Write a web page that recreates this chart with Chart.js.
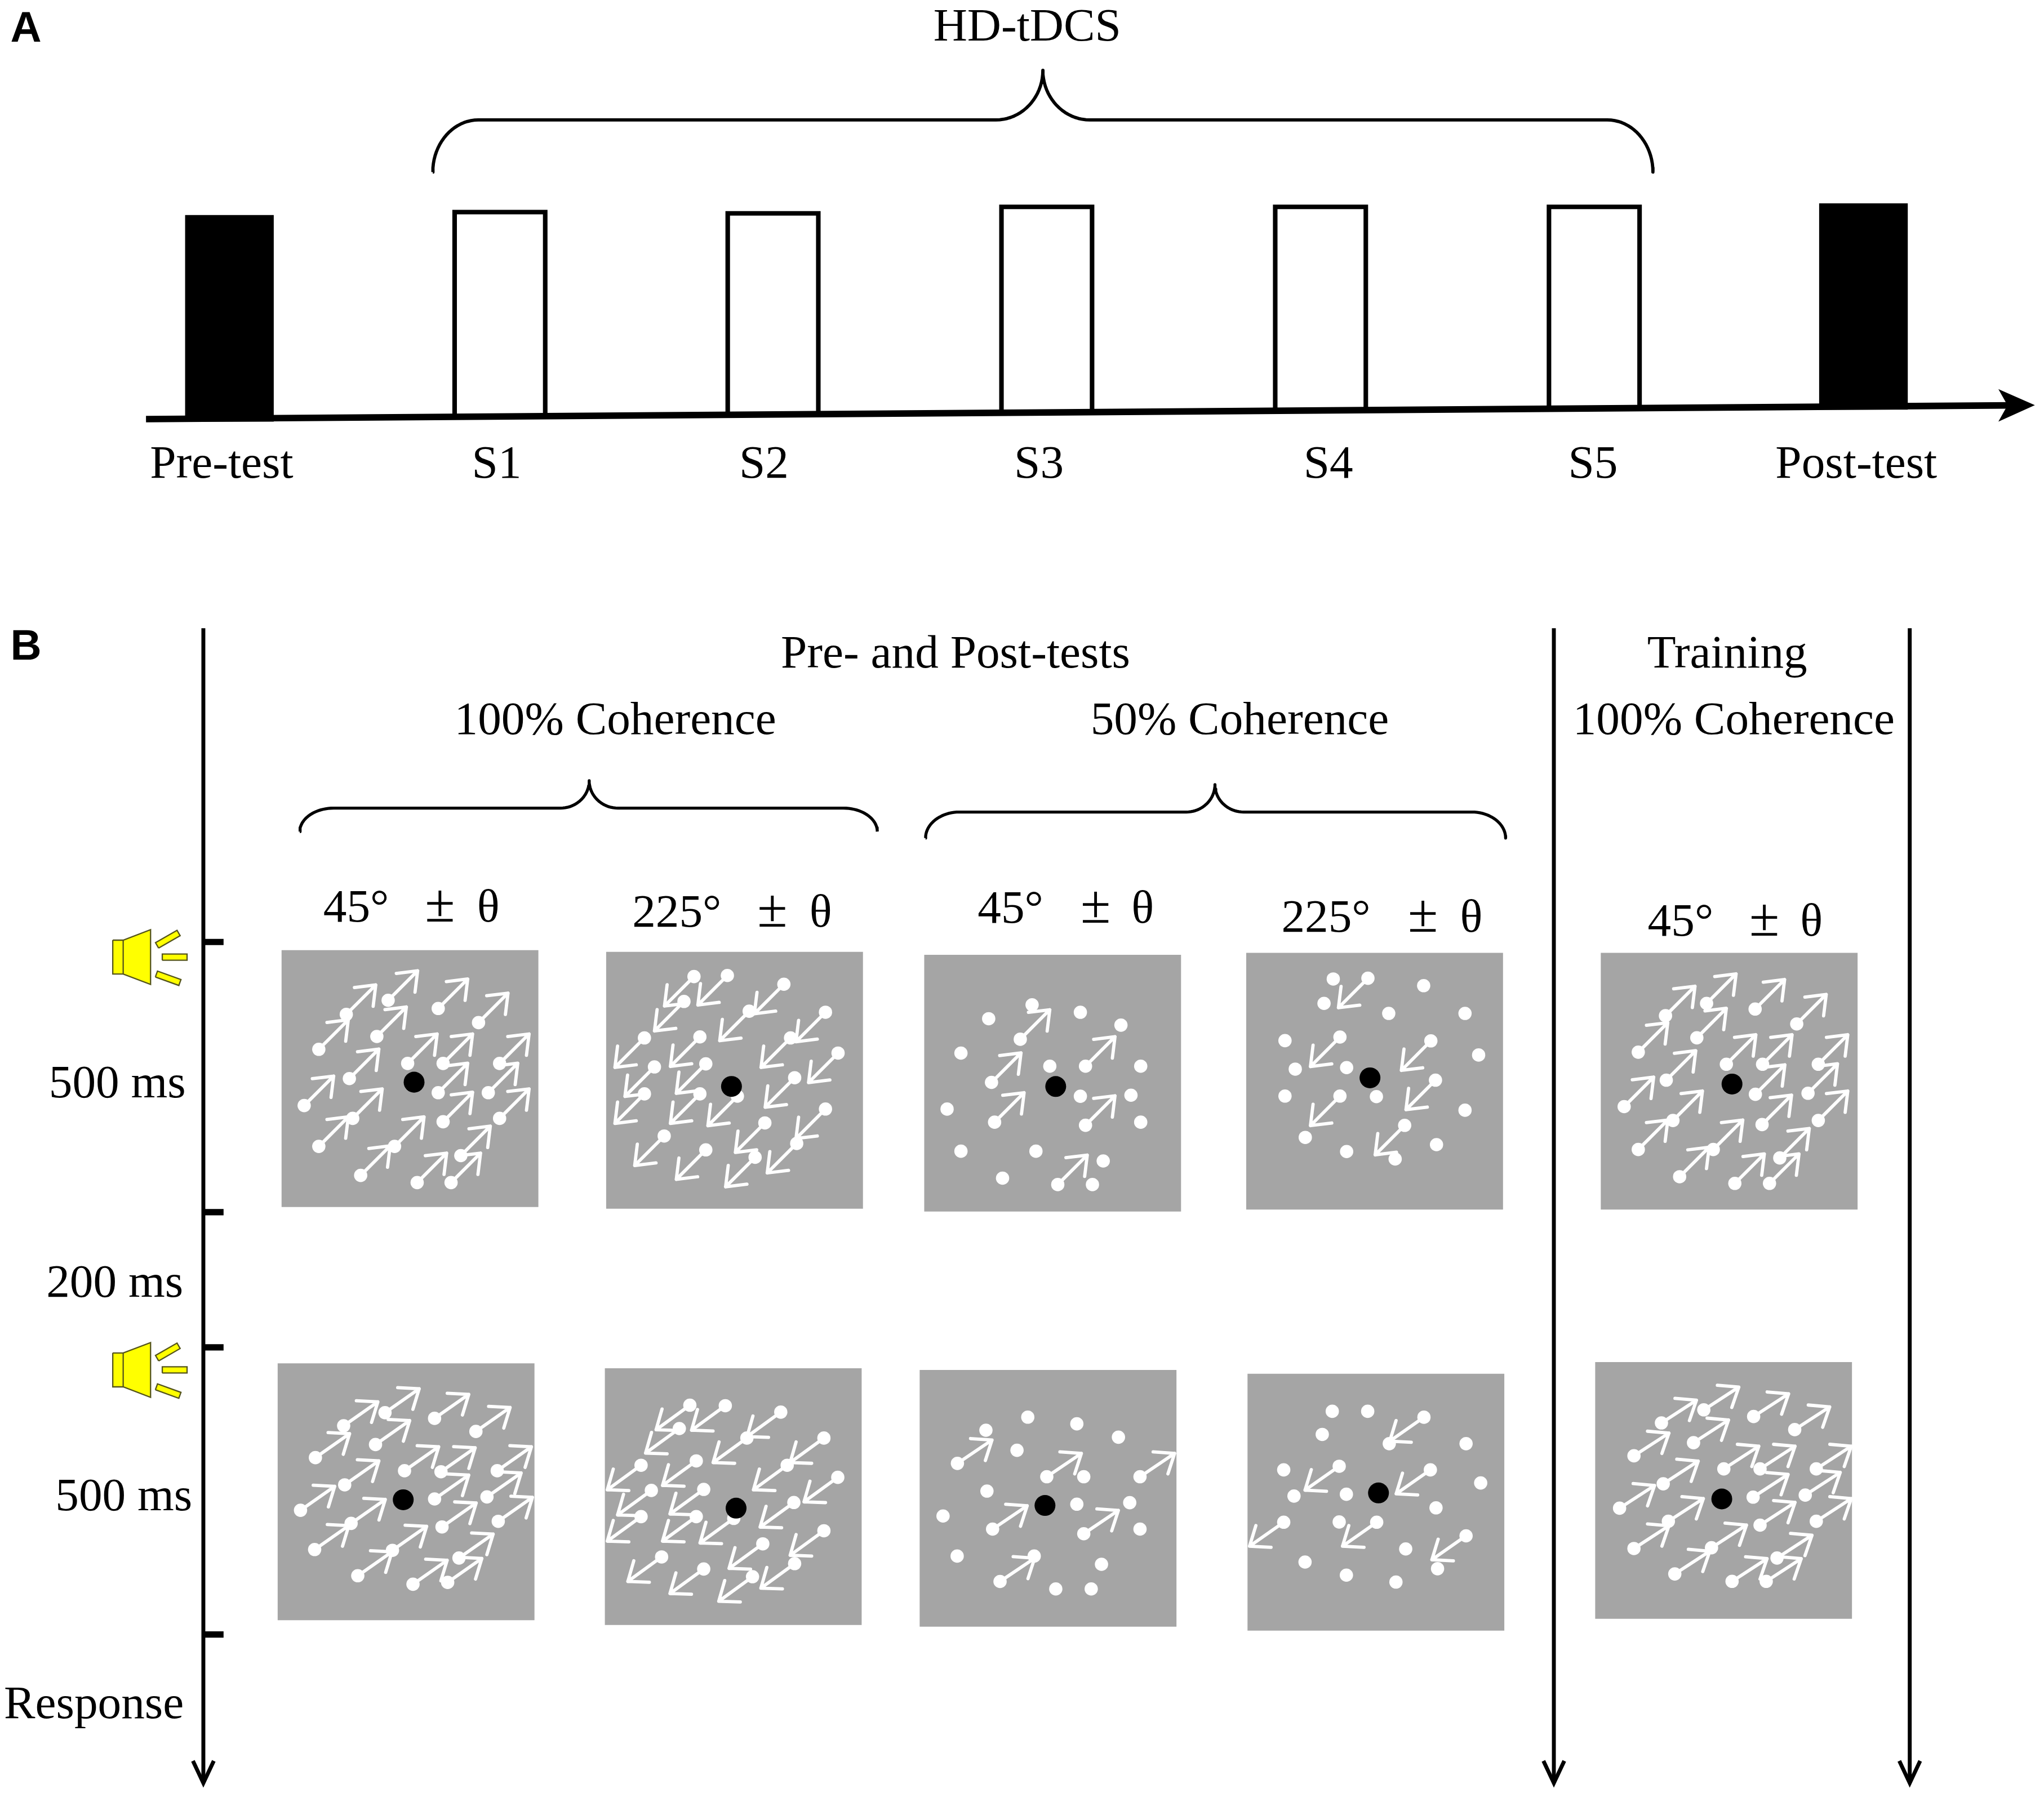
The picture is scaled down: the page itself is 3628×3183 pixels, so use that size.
<!DOCTYPE html>
<html>
<head>
<meta charset="utf-8">
<title>HD-tDCS protocol and motion stimuli</title>
<script src="https://cdn.jsdelivr.net/npm/chart.js@4.4.1/dist/chart.umd.min.js"></script>
<style>
  html, body { margin: 0; padding: 0; background: #fff; }
  #wrap { width: 3628px; height: 3183px; }
</style>
</head>
<body>
<div id="wrap"><canvas id="fig" width="3628" height="3183"></canvas></div>
<script>
// figure units: the reference scaled to 1568 px wide
const W = 1568, H = 1375.6;
const K = 3628 / W;
const SERIF = '"Liberation Serif", "Times New Roman", serif';
const SANS = '"Liberation Sans", Arial, sans-serif';

// ---- panel A: sessions on the timeline ----
const sessionLabels = ["Pre-test", "S1", "S2", "S3", "S4", "S5", "Post-test"];
const sessionX = [176, 383.5, 593, 803, 1013, 1223, 1429.5];
const sessionTop = [165, 162.7, 163.7, 158.7, 158.7, 158.7, 156];
const sessionFilled = [true, false, false, false, false, false, true];
const sessionLabelX = [170, 381, 586, 797, 1019, 1222, 1424];
const timelineStart = [112, 321.5];
const timelineEnd = [1542, 311];
const stimulationTitle = "HD-tDCS";

// ---- panel B: trial timeline ----
const durationLabels = ["500 ms", "200 ms", "500 ms", "Response"];
const durationLabelX = [90, 88, 95, 72];
const durationLabelY = [842, 995, 1158.5, 1318];
const tickY = [722.7, 930, 1033.7, 1254];
const beepY = [734.3, 1051];
const timeAxisX = [156, 1192, 1465];

const groupTitles = ["Pre- and Post-tests", "Training", "100% Coherence", "50% Coherence", "100% Coherence"];
const groupTitleX = [733, 1325, 472, 951, 1330];
const groupTitleY = [512, 512, 563, 563, 563];

// stimuli, in reading order: top row then bottom row
const stimDirection = [45, 225, 45, 225, 45, 35, 216, 34, 215, 33];
const stimCoherence = [100, 100, 50, 50, 100, 100, 100, 50, 50, 100];
const angleText = ["45°", "225°", "45°", "225°", "45°"];
const angleTextX = [248, 485, 750, 983, 1264];
const plusMinusX = [326, 581, 829, 1080, 1342];
const thetaX = [366, 621, 868, 1120, 1381];
const angleTextY = [707, 711, 708, 715, 718];

const stimLeft = [216, 465, 709, 956, 1228, 213, 464, 705.5, 957, 1223.7];
const stimTop = [729, 730.3, 732.5, 731, 731, 1046, 1049.7, 1051, 1054, 1045];

// dot positions inside each stimulus, percent of its side; third value = carries an arrow
const stimDots = [
  [[41.5,19.5],[61,22.7],[76.7,28.2],[25.2,25],[37.1,33.6],[14.5,38.6],[49.1,44.1],[62.9,44.1],[84.9,44.1],[26.4,50],[61,55.5],[80.5,55.5],[8.8,60.5],[27.7,65.5],[62.9,66.8],[84.9,65.5],[14.5,76.4],[44,76.4],[69.8,80],[30.8,87.7],[52.8,90.5],[66,90.5]],
  [[34.2,9.6],[47.2,9.2],[69.2,12.6],[30.3,19.3],[55.7,23.1],[85.4,23.5],[14.9,33.5],[36.5,33.1],[71.8,33.5],[90.3,39.4],[18.8,44.8],[38.8,43.6],[73.4,49],[14.9,55.3],[36.5,55.3],[51.1,56.2],[85.4,61.2],[61.8,66.6],[22.6,71.7],[74.2,74.6],[38.8,77.1],[58,80]],
  [[25.1,24.9,0],[42,19.5,0],[60.8,22.4,0],[76.6,27.4,0],[37.4,32.9,1],[14.3,38.3,0],[62.8,43.4,1],[48.9,43.4,0],[84.3,43.4,0],[26.2,49.7,1],[60.8,55.1,0],[80.5,54.7,0],[8.9,60.1,0],[27.4,65.2,1],[62.8,66.4,1],[84.3,65.2,0],[14.3,76.5,0],[43.5,76.5,0],[69.7,80.3,0],[30.5,87,0],[52,89.5,1],[65.5,89.5,0]],
  [[33.9,10.2,0],[47.4,9.9,1],[30.3,19.7,0],[69.1,12.8,0],[55.5,23.6,0],[85.2,23.6,0],[15.1,34.2,0],[36.5,32.8,1],[71.9,34.3,1],[90.5,39.8,0],[19.1,45.3,0],[39.1,44.7,0],[15.1,55.8,0],[36.5,55.8,1],[50.7,56,0],[73.7,49.6,1],[85.2,61.3,0],[61.7,67.2,1],[23,71.9,0],[39.1,77.4,0],[74.1,74.7,0],[58,80.3,0]],
  [[41.2,19.7],[60.1,21.9],[76.3,27.7],[25.2,24.5],[37.4,33.1],[14.6,38.7],[48.9,43.4],[63,43.4],[84.7,43.4],[25.5,49.6],[60.2,55.1],[80.7,54.7],[9.1,59.9],[28.1,65.3],[62.8,66.9],[84.7,65.3],[14.6,76.6],[43.8,76.6],[69.7,79.9],[30.7,87.2],[52.2,89.8],[65.7,89.8]],
  [[41.8,19.2],[61.1,21.4],[77.2,26.5],[25.7,24.3],[38.1,31.6],[14.7,36.7],[49.4,41.8],[63.6,42.2],[85.5,41.8],[26.1,47.3],[61.1,52.8],[81.5,52],[8.9,57.2],[28.6,62.3],[64,63.7],[85.9,61.5],[14.4,72.5],[44.7,72.8],[70.6,75.8],[31.2,82.7],[52.7,86],[66.2,85.3]],
  [[33.1,14.4],[46.9,14.6],[29,23.5],[68.5,17.1],[55.3,27.2],[85.3,27.2],[14.1,37.8],[35.6,36.1],[71,37.8],[90.7,42.5],[18.1,47.6],[38.5,47.2],[14.1,57.8],[35.6,57.8],[50.2,58.5],[73.6,52.3],[85.3,63.3],[61.5,68.4],[22.1,73.5],[38.5,78.2],[73.9,76.1],[57.5,81.2]],
  [[42.1,18.4,0],[25.8,23.5,0],[61.2,21,0],[77.4,26.2,0],[37.9,31.3,0],[14.7,36.4,1],[49.5,41.6,1],[63.9,41.6,0],[85.8,41.6,1],[26.2,47.2,0],[61.2,52.3,0],[81.8,51.7,0],[9.1,56.9,0],[28.4,62,1],[63.9,63.8,1],[85.8,62,0],[14.6,72.5,0],[44.6,72.5,0],[70.8,75.7,0],[31.3,82.4,1],[53,85.3,0],[66.8,85.3,0]],
  [[33,14.6,0],[46.8,14.6,0],[29.1,23.6,0],[68.7,16.9,1],[55.2,27.2,0],[85.1,27.2,0],[14.1,37.4,0],[35.7,36,1],[71.2,37.4,1],[90.8,42.5,0],[18.1,47.6,0],[38.5,46.9,0],[14.1,57.8,1],[35.7,57.7,0],[50.3,57.8,1],[73.4,52.2,0],[85.1,63.1,1],[61.6,68.2,0],[22.4,73.3,0],[38.5,78.4,0],[74,75.9,0],[57.8,81.1,0]],
  [[42.3,18.6],[61.7,21.2],[77.7,26.3],[25.8,23.7],[38.3,31.4],[15.1,36.5],[50.1,41.6],[64.2,41.6],[86.1,41.6],[26.5,47.4],[61.5,52.6],[81.8,51.8],[9.5,56.9],[28.5,62],[64.2,63.5],[86.1,62],[15.1,72.6],[45.3,72.3],[70.8,76.3],[31,82.5],[53.3,85.4],[66.6,85.4]]
];
const stimFixation = [[51.6,51.4],[48.8,52.4],[51.2,51.3],[48.2,48.7],[51.1,51.1],[48.9,53.1],[51.1,54.5],[48.8,52.8],[51,46.4],[49.3,53.3]];

// ---- drawing constants ----
const STIM = 197;
const ARROW_LEN = 32, HEAD_LEN = 16.5, HEAD_ANGLE = 38 * Math.PI / 180;
const GREY = "#a5a5a5";
const YELLOW = "#ffff00", OLIVE = "#55551c";

const layers = [];

function pt(p) { return { x: p[0], y: p[1] }; }

function shape(points, fillColor, strokeColor, strokeWidth, cap) {
  layers.push({
    data: points.map(pt),
    showLine: true,
    fill: fillColor ? "shape" : false,
    backgroundColor: fillColor || "rgba(0,0,0,0)",
    borderColor: strokeColor || "rgba(0,0,0,0)",
    borderWidth: strokeWidth ? strokeWidth * K : 0,
    borderCapStyle: cap || "butt",
    borderJoinStyle: "miter",
    pointRadius: 0,
    spanGaps: false
  });
}

// many open polylines in one dataset, broken by empty points
function polylines(list, color, width, cap, join) {
  const data = [];
  list.forEach(seg => {
    seg.forEach(p => data.push(pt(p)));
    data.push({ x: seg[0][0], y: null });
  });
  layers.push({
    data, showLine: true, fill: false,
    borderColor: color, borderWidth: width * K,
    borderCapStyle: cap || "butt", borderJoinStyle: join || "miter",
    pointRadius: 0, spanGaps: false
  });
}

function discs(points, color, radius) {
  layers.push({
    data: points.map(pt), showLine: false,
    pointRadius: radius * K, pointBackgroundColor: color,
    pointBorderWidth: 0, pointBorderColor: color
  });
}

function bracePoints(x0, x1, xt, yEnd, yMid, yTip, r, rt) {
  const out = [], k = 0.55;
  const cubic = (a, b, c, d) => {
    for (let i = 0; i <= 20; i++) {
      const t = i / 20, u = 1 - t;
      out.push([
        u*u*u*a[0] + 3*u*u*t*b[0] + 3*u*t*t*c[0] + t*t*t*d[0],
        u*u*u*a[1] + 3*u*u*t*b[1] + 3*u*t*t*c[1] + t*t*t*d[1]
      ]);
    }
  };
  cubic([x0, yEnd], [x0, yEnd - k*(yEnd - yMid)], [x0 + r - k*r, yMid], [x0 + r, yMid]);
  cubic([xt - rt, yMid], [xt - rt + k*rt, yMid], [xt, yTip + k*(yMid - yTip)], [xt, yTip]);
  cubic([xt, yTip], [xt, yTip + k*(yMid - yTip)], [xt + rt - k*rt, yMid], [xt + rt, yMid]);
  cubic([x1 - r, yMid], [x1 - r + k*r, yMid], [x1, yEnd - k*(yEnd - yMid)], [x1, yEnd]);
  return out;
}

function timelineY(x) {
  const t = (x - timelineStart[0]) / (timelineEnd[0] - timelineStart[0]);
  return timelineStart[1] + t * (timelineEnd[1] - timelineStart[1]);
}

function thickBar(a, b, half) {
  const dx = b[0] - a[0], dy = b[1] - a[1], len = Math.hypot(dx, dy);
  const nx = -dy / len * half, ny = dx / len * half;
  return [[a[0]+nx, a[1]+ny], [b[0]+nx, b[1]+ny], [b[0]-nx, b[1]-ny], [a[0]-nx, a[1]-ny], [a[0]+nx, a[1]+ny]];
}

// ---- panel A ----
sessionX.forEach((cx, i) => {
  const half = sessionFilled[i] ? 34 : 34.75;
  const l = cx - half, r = cx + half;
  const b = timelineY(cx) + (sessionFilled[i] ? 2.5 : 0);
  const box = [[l, sessionTop[i]], [r, sessionTop[i]], [r, b], [l, b], [l, sessionTop[i]]];
  if (sessionFilled[i]) shape(box, "#000");
  else shape(box, null, "#000", 3.5, "square");
});
polylines([[timelineStart, timelineEnd]], "#000", 5);
shape([[1561, 310.8], [1533, 298.5], [1540, 311], [1533, 323.5], [1561, 310.8]], "#000");
polylines([bracePoints(332, 1268, 800, 132, 92, 54, 35, 36)], "#000", 2.5, "butt", "round");

// ---- panel B: time axes ----
timeAxisX.forEach(x => {
  polylines([[[x, 482], [x, 1367]]], "#000", 3);
  polylines([[[x - 8, 1351], [x, 1368], [x + 8, 1351]]], "#000", 3, "butt", "miter");
});
polylines(tickY.map(y => [[156, y], [171.5, y]]), "#000", 4.8);

beepY.forEach(cy => {
  shape([[86.5, cy-13], [94.5, cy-13], [115.5, cy-21], [115.5, cy+21], [94.5, cy+13], [86.5, cy+13], [86.5, cy-13]], YELLOW, OLIVE, 1);
  polylines([[[94.5, cy-13], [94.5, cy+13]]], OLIVE, 1);
  [[[120.5, cy-9], [137, cy-18.5]], [[124.5, cy], [143.5, cy]], [[120, cy+13], [138, cy+19.5]]]
    .forEach(s => shape(thickBar(s[0], s[1], 2.4), YELLOW, OLIVE, 1));
});

polylines([bracePoints(230, 673, 452, 638, 620, 599, 26, 22)], "#000", 2.3, "butt", "round");
polylines([bracePoints(710, 1155, 932, 643, 623, 602, 26, 22)], "#000", 2.3, "butt", "round");

// ---- stimuli ----
stimDots.forEach((dots, i) => {
  const l = stimLeft[i], t = stimTop[i];
  shape([[l, t], [l + STIM, t], [l + STIM, t + STIM], [l, t + STIM], [l, t]], GREY);
  const a = stimDirection[i] * Math.PI / 180;
  const ux = Math.cos(a), uy = -Math.sin(a);
  const c = Math.cos(HEAD_ANGLE), s = Math.sin(HEAD_ANGLE);
  const arrows = [];
  const spots = [];
  dots.forEach(d => {
    const x0 = l + d[0] * STIM / 100, y0 = t + d[1] * STIM / 100;
    spots.push([x0, y0]);
    if (stimCoherence[i] < 100 && !d[2]) return;
    const tx = x0 + ARROW_LEN * ux, ty = y0 + ARROW_LEN * uy;
    const bx = -ux, by = -uy;
    const h1 = [tx + HEAD_LEN * (bx*c - by*s), ty + HEAD_LEN * (bx*s + by*c)];
    const h2 = [tx + HEAD_LEN * (bx*c + by*s), ty + HEAD_LEN * (-bx*s + by*c)];
    arrows.push([[x0, y0], [tx, ty]]);
    arrows.push([h1, [tx, ty], h2]);
  });
  polylines(arrows, "#fff", 2.5, "round", "round");
  discs(spots, "#fff", 5.1);
  const f = stimFixation[i];
  discs([[l + f[0] * STIM / 100, t + f[1] * STIM / 100]], "#000", 8);
});

// paint in the order pushed
layers.forEach((ds, i) => { ds.order = layers.length - i; });

// ---- text ----
const texts = [];
texts.push({ text: "A", x: 8, y: 32, size: 33, weight: "bold", family: SANS, align: "left" });
texts.push({ text: "B", x: 8, y: 506, size: 33, weight: "bold", family: SANS, align: "left" });
texts.push({ text: stimulationTitle, x: 788, y: 31, size: 36 });
sessionLabels.forEach((s, i) => texts.push({ text: s, x: sessionLabelX[i], y: 366.5, size: 36 }));
durationLabels.forEach((s, i) => texts.push({ text: s, x: durationLabelX[i], y: durationLabelY[i], size: 36 }));
groupTitles.forEach((s, i) => texts.push({ text: s, x: groupTitleX[i], y: groupTitleY[i], size: 36 }));
angleText.forEach((s, i) => {
  texts.push({ text: s, x: angleTextX[i], y: angleTextY[i], size: 36, align: "left" });
  texts.push({ text: "±", x: plusMinusX[i], y: angleTextY[i], size: 42, align: "left" });
  texts.push({ text: "θ", x: thetaX[i], y: angleTextY[i], size: 36, align: "left" });
});

const paperWhite = {
  id: "paperWhite",
  beforeDraw(chart) {
    const ctx = chart.ctx;
    ctx.save();
    ctx.fillStyle = "#fff";
    ctx.fillRect(0, 0, chart.width, chart.height);
    ctx.restore();
  }
};

const textLayer = {
  id: "textLayer",
  afterDatasetsDraw(chart) {
    const { ctx, scales: { x, y } } = chart;
    ctx.save();
    ctx.fillStyle = "#000";
    ctx.textBaseline = "alphabetic";
    texts.forEach(t => {
      ctx.font = (t.weight || "normal") + " " + (t.size * K) + "px " + (t.family || SERIF);
      ctx.textAlign = t.align || "center";
      ctx.fillText(t.text, x.getPixelForValue(t.x), y.getPixelForValue(t.y));
    });
    ctx.restore();
  }
};

new Chart(document.getElementById("fig"), {
  type: "scatter",
  data: { datasets: layers },
  options: {
    responsive: false,
    animation: false,
    devicePixelRatio: 1,
    events: [],
    layout: { padding: 0, autoPadding: false },
    scales: {
      x: { type: "linear", min: 0, max: W, display: false },
      y: { type: "linear", min: 0, max: H, reverse: true, display: false }
    },
    plugins: { legend: { display: false }, tooltip: { enabled: false } }
  },
  plugins: [paperWhite, textLayer]
});
</script>
</body>
</html>
